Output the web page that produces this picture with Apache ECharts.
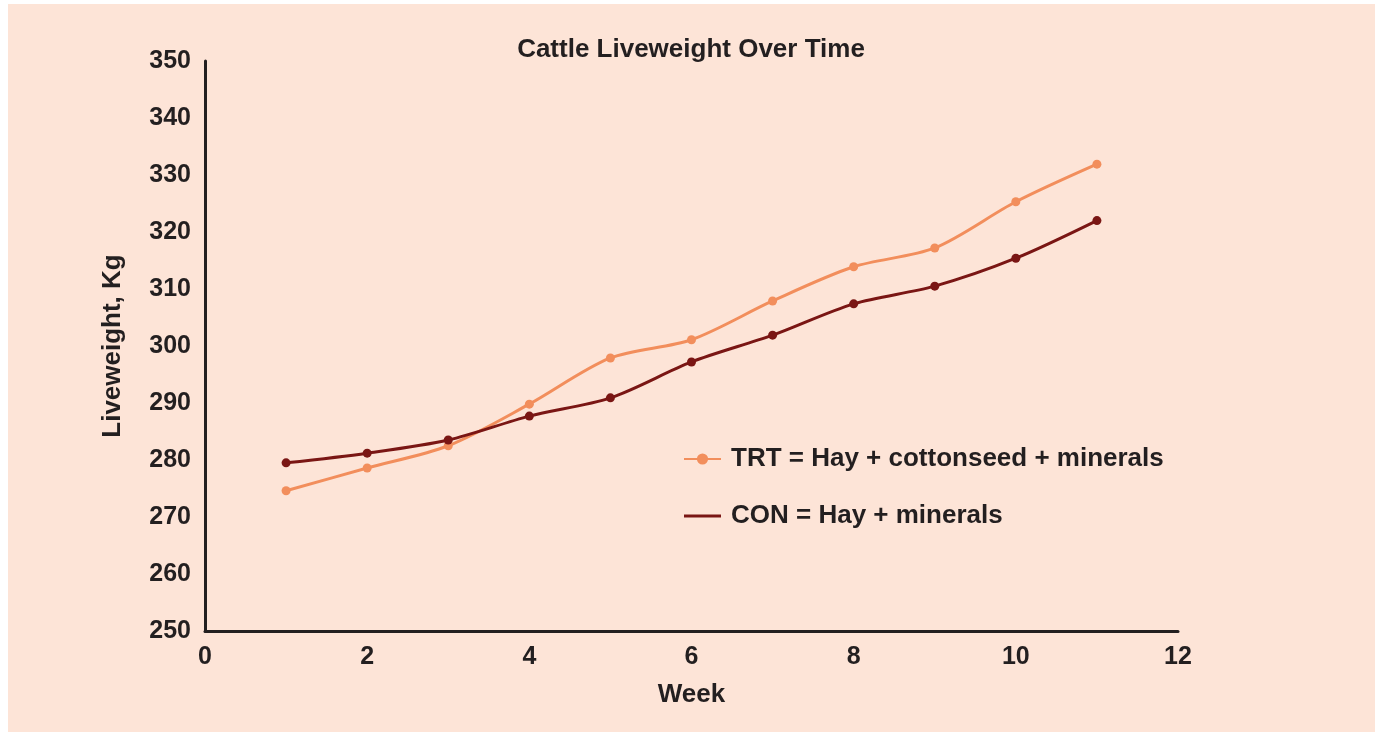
<!DOCTYPE html>
<html><head><meta charset="utf-8">
<script src="https://cdn.jsdelivr.net/npm/echarts@6/dist/echarts.min.js"></script>
<style>
html,body{margin:0;padding:0;background:#fff;}
#wrap{position:absolute;left:8px;top:4px;width:1367px;height:728px;background:#FDE4D7;}
#c{position:absolute;left:-8px;top:-4px;width:1375px;height:732px;}
</style></head><body>
<div id="wrap"><div id="c"></div></div>
<script>
const weeks = [1,2,3,4,5,6,7,8,9,10,11];
const trt = [274.6,278.6,282.5,289.8,297.9,301.1,307.9,313.9,317.2,325.3,331.9];
const con = [279.5,281.2,283.5,287.7,290.9,297.2,301.9,307.4,310.5,315.4,322.0];
const trtName = 'TRT = Hay + cottonseed + minerals';
const conName = 'CON = Hay + minerals';
const chart = echarts.init(document.getElementById('c'));
const txt = '#231F20';
const ff = 'Liberation Sans, Arial, sans-serif';
chart.setOption({
  animation:false,
  title:{text:'Cattle Liveweight Over Time',left:691,textAlign:'center',top:37,padding:0,
    textStyle:{fontFamily:ff,fontSize:26,fontWeight:'bold',color:txt}},
  grid:{left:205,right:197,top:61,bottom:101},
  legend:{orient:'vertical',left:683,top:446,padding:0,itemGap:31,itemWidth:37,itemHeight:14,
    textStyle:{fontFamily:ff,fontSize:26,fontWeight:'bold',color:txt,padding:[0,0,0,5]},
    data:[{name:trtName},{name:conName,icon:'path://M0,0L40,0L40,3L0,3Z'}]},
  xAxis:{type:'value',min:0,max:12,interval:2,name:'Week',nameLocation:'middle',nameGap:51,
    nameTextStyle:{fontFamily:ff,fontSize:26,fontWeight:'bold',color:txt},
    axisLine:{show:true,lineStyle:{color:txt,width:3}},axisTick:{show:false},splitLine:{show:false},
    axisLabel:{fontFamily:ff,fontSize:25,fontWeight:'bold',color:txt,margin:14}},
  yAxis:{type:'value',min:250,max:350,interval:10,name:'Liveweight, Kg',nameLocation:'middle',nameGap:79,
    nameTextStyle:{fontFamily:ff,fontSize:26,fontWeight:'bold',color:txt},
    axisLine:{show:true,lineStyle:{color:txt,width:3}},axisTick:{show:false},splitLine:{show:false},
    axisLabel:{fontFamily:ff,fontSize:25,fontWeight:'bold',color:txt,margin:14}},
  series:[
    {name:trtName,type:'line',smooth:0.3,data:weeks.map((w,i)=>[w,trt[i]]),
     symbol:'circle',symbolSize:9,lineStyle:{color:'#F28E5C',width:3},itemStyle:{color:'#F28E5C'}},
    {name:conName,type:'line',smooth:0.3,data:weeks.map((w,i)=>[w,con[i]]),
     symbol:'circle',symbolSize:9,lineStyle:{color:'#7A1614',width:3},itemStyle:{color:'#7A1614'}}
  ]
});
</script></body></html>
